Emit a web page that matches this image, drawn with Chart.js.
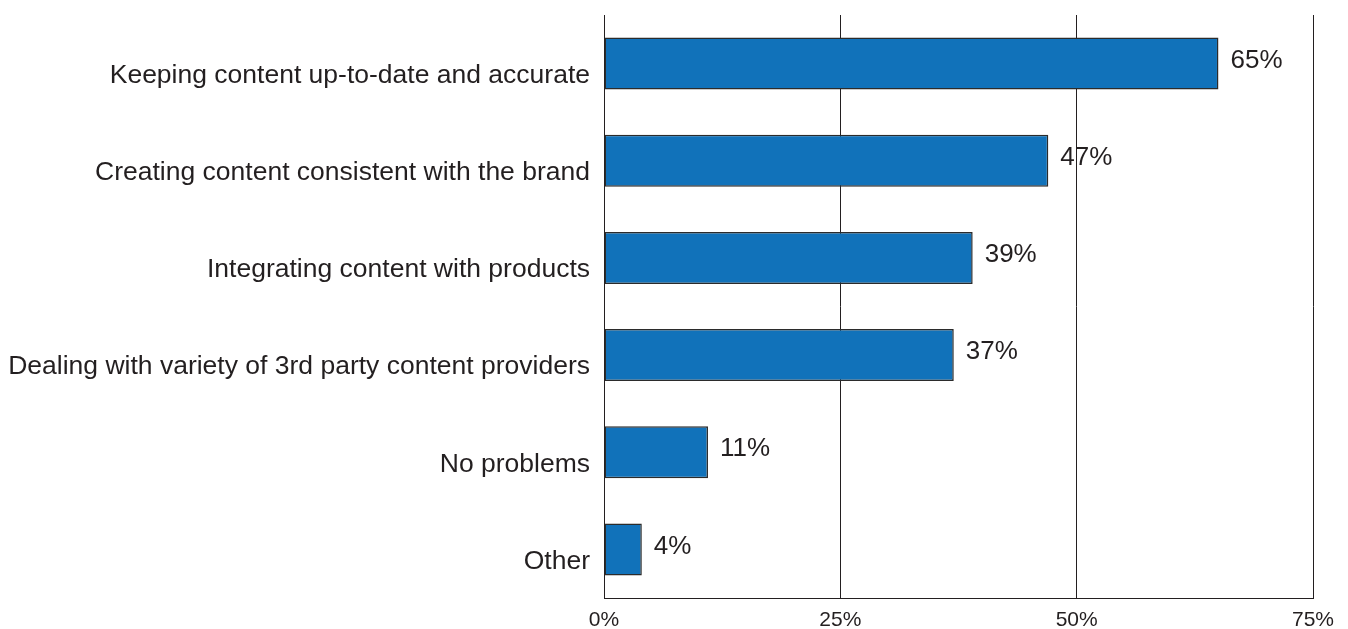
<!DOCTYPE html>
<html>
<head>
<meta charset="utf-8">
<script src="https://cdn.jsdelivr.net/npm/chart.js@4"></script>
<style>
  html, body { margin: 0; padding: 0; background: #fff; }
  #wrap { width: 1348px; height: 629px; }
</style>
</head>
<body>
<div id="wrap"><canvas id="myChart"></canvas></div>
<script>
const categories = [
    "Keeping content up-to-date and accurate",
    "Creating content consistent with the brand",
    "Integrating content with products",
    "Dealing with variety of 3rd party content providers",
    "No problems",
    "Other"
];
const shares = [65, 47, 39, 37, 11, 4];
const tickValues = [0, 25, 50, 75];

const FONT = "'Liberation Sans', Arial, sans-serif";

// writes "65%" etc just past the end of each bar
const valueLabels = {
    id: "valueLabels",
    afterDatasetsDraw(chart) {
        const ctx = chart.ctx;
        const meta = chart.getDatasetMeta(0);
        ctx.save();
        ctx.font = "26px " + FONT;
        ctx.fillStyle = "#231f20";
        ctx.textAlign = "left";
        ctx.textBaseline = "middle";
        meta.data.forEach((bar, i) => {
            ctx.fillText(shares[i] + "%", bar.x + 12, bar.y - 3);
        });
        ctx.restore();
    }
};

const myChart = document.getElementById("myChart");

new Chart(myChart, {
    type: "bar",
    data: {
        labels: categories,
        datasets: [{
            data: shares,
            backgroundColor: "#1172ba",
            borderColor: "#2b2b2b",
            borderWidth: 1.5,
            borderSkipped: false,
            barPercentage: 0.535,
            categoryPercentage: 1
        }]
    },
    options: {
        indexAxis: "y",
        responsive: true,
        maintainAspectRatio: false,
        animation: false,
        layout: { padding: { top: 15, right: 35, left: 0, bottom: 0 } },
        plugins: {
            legend: { display: false },
            tooltip: { enabled: false }
        },
        scales: {
            x: {
                min: 0,
                max: 75,
                afterBuildTicks: (axis) => { axis.ticks = tickValues.map(v => ({ value: v })); },
                afterFit: (axis) => { axis.height = 31; axis.paddingLeft = 0; axis.paddingRight = 0; },
                grid: { color: "#231f20", lineWidth: 1, drawTicks: false },
                border: { display: true, color: "#231f20", width: 1 },
                ticks: {
                    padding: 10,
                    color: "#231f20",
                    font: { family: FONT, size: 21 },
                    callback: (v) => v + "%"
                }
            },
            y: {
                afterFit: (axis) => { axis.width = 604; axis.paddingTop = 0; axis.paddingBottom = 0; },
                grid: { display: false, drawTicks: false },
                border: { display: true, color: "#231f20", width: 1 },
                ticks: {
                    padding: 14,
                    labelOffset: 12,
                    color: "#231f20",
                    font: { family: FONT, size: 26.5 }
                }
            }
        }
    },
    plugins: [valueLabels]
});
</script>
</body>
</html>
